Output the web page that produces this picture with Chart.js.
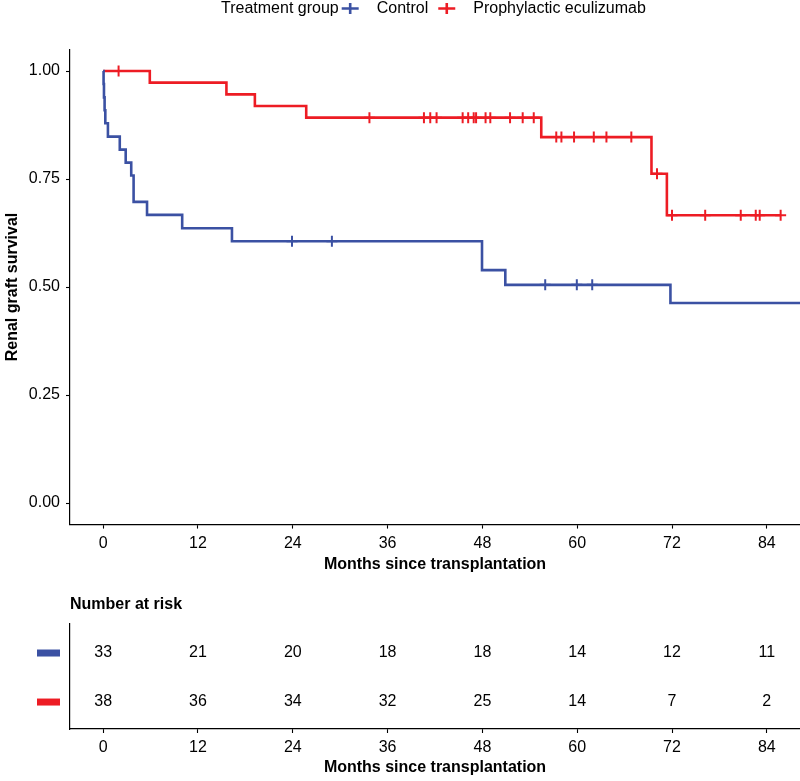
<!DOCTYPE html>
<html>
<head>
<meta charset="utf-8">
<title>Renal graft survival</title>
<script src="https://cdn.jsdelivr.net/npm/chart.js@4.4.1/dist/chart.umd.min.js"></script>
<style>
  body { margin: 0; background: #fff; }
  #wrap { position: relative; width: 800px; height: 781px; background: #fff; }
  canvas { position: absolute; left: 0; }
  #kmChart { top: 0; }
  #riskChart { top: 580px; }
</style>
</head>
<body>
<div id="wrap">
  <canvas id="kmChart" width="800" height="580"></canvas>
  <canvas id="riskChart" width="800" height="201"></canvas>
</div>
<script>
// data
const legendTitle = 'Treatment group';
const groups = ['Control', 'Prophylactic eculizumab'];
const colors = ['#3B51A3', '#ED1C24'];

// Control: step times (months) and survival after each step
const ctrlTime = [0, 0.05, 0.1, 0.18, 0.27, 0.6, 2.1, 2.85, 3.55, 3.85, 5.55, 10.0, 16.3, 47.95, 50.9, 71.8, 92];
const ctrlSurv = [1, 0.970, 0.939, 0.909, 0.879, 0.848, 0.818, 0.788, 0.758, 0.697, 0.667, 0.636, 0.606, 0.539, 0.505, 0.463, 0.463];
const ctrlCensor = [23.9, 28.95, 55.95, 59.95, 61.9];

// Prophylactic eculizumab
const ecuTime = [0, 5.9, 15.6, 19.2, 25.7, 55.45, 69.4, 71.35, 85.75];
const ecuSurv = [1, 0.973, 0.946, 0.919, 0.892, 0.847, 0.762, 0.666, 0.666];
const ecuCensor = [1.95, 33.7, 40.6, 41.4, 42.2, 45.5, 46.2, 46.9, 47.2, 48.4, 49.0, 51.5, 53.1, 54.5,
  57.35, 58.0, 59.6, 62.1, 63.7, 66.85, 70.1, 72.0, 76.2, 80.7, 82.6, 83.1, 85.75];

// number at risk
const riskTimes = [0, 12, 24, 36, 48, 60, 72, 84];
const ctrlRisk = [33, 21, 20, 18, 18, 14, 12, 11];
const ecuRisk = [38, 36, 34, 32, 25, 14, 7, 2];

const xTicks = [0, 12, 24, 36, 48, 60, 72, 84];
const yTicks = [0, 0.25, 0.5, 0.75, 1];
const xTitle = 'Months since transplantation';

const FONT = "'Liberation Sans', Arial, sans-serif";
Chart.defaults.font.family = FONT;
Chart.defaults.color = '#000';

// survival value at time t on a step curve (for placing censor marks)
function survAt(times, surv, t) {
  let s = surv[0];
  for (let i = 0; i < times.length; i++) {
    if (times[i] <= t) s = surv[i];
  }
  return s;
}

function curve(times, surv) {
  return times.map((t, i) => ({ x: t, y: surv[i] }));
}

function censorPts(times, surv, cens) {
  return cens.map(t => ({ x: t, y: survAt(times, surv, t) }));
}

function xScale(height, tickPad, titlePadBottom) {
  return {
    type: 'linear',
    min: -4.2,
    max: 88.2,
    afterBuildTicks: s => { s.ticks = xTicks.map(v => ({ value: v })); },
    afterFit: s => { s.height = height; s.paddingLeft = 0; s.paddingRight = 0; },
    grid: { drawOnChartArea: false, drawTicks: true, tickLength: 4, tickColor: '#000', tickWidth: 1.1 },
    border: { display: true, color: '#000', width: 1.2 },
    ticks: { color: '#000', font: { size: 16 }, padding: tickPad, maxRotation: 0, autoSkip: false },
    title: {
      display: true, text: xTitle, color: '#000',
      font: { size: 16, weight: 'bold' },
      padding: { top: 0, bottom: titlePadBottom }
    }
  };
}

// legend row at the top
const topLegend = {
  id: 'topLegend',
  afterDraw(chart) {
    const ctx = chart.ctx;
    ctx.save();
    ctx.font = '16px ' + FONT;
    ctx.fillStyle = '#000';
    ctx.textBaseline = 'middle';
    const y = 8.5;
    let x = 221;
    ctx.fillText(legendTitle, x, y);
    x += ctx.measureText(legendTitle).width + 3;
    groups.forEach((g, i) => {
      ctx.strokeStyle = colors[i];
      ctx.lineWidth = 2.6;
      ctx.beginPath();
      ctx.moveTo(x, y); ctx.lineTo(x + 17, y);
      ctx.moveTo(x + 8.5, y - 5.5); ctx.lineTo(x + 8.5, y + 5.5);
      ctx.stroke();
      x += 17 + 18;
      ctx.fillStyle = '#000';
      ctx.fillText(g, x, y);
      x += ctx.measureText(g).width + 10;
    });
    ctx.restore();
  }
};

new Chart(document.getElementById('kmChart'), {
  type: 'line',
  data: {
    datasets: [
      {
        label: groups[0], data: curve(ctrlTime, ctrlSurv), stepped: true,
        borderColor: colors[0], borderWidth: 2.6, pointRadius: 0, fill: false
      },
      {
        label: groups[1], data: curve(ecuTime, ecuSurv), stepped: true,
        borderColor: colors[1], borderWidth: 2.6, pointRadius: 0, fill: false
      },
      {
        label: groups[0] + ' censored', data: censorPts(ctrlTime, ctrlSurv, ctrlCensor), showLine: false,
        pointStyle: 'cross', pointRadius: 5.5, pointBorderWidth: 2, borderColor: colors[0], pointBorderColor: colors[0]
      },
      {
        label: groups[1] + ' censored', data: censorPts(ecuTime, ecuSurv, ecuCensor), showLine: false,
        pointStyle: 'cross', pointRadius: 5.5, pointBorderWidth: 2, borderColor: colors[1], pointBorderColor: colors[1]
      }
    ]
  },
  options: {
    responsive: false,
    animation: false,
    devicePixelRatio: 1,
    layout: { autoPadding: false, padding: { top: 49.4, left: 0, right: 0, bottom: 0 } },
    plugins: { legend: { display: false }, tooltip: { enabled: false } },
    scales: {
      x: xScale(55.4, 5, 5.9),
      y: {
        min: -0.05,
        max: 1.05,
        afterBuildTicks: s => { s.ticks = yTicks.map(v => ({ value: v })); },
        afterFit: s => { s.width = 70; },
        grid: { drawOnChartArea: false, drawTicks: true, tickLength: 4, tickColor: '#000', tickWidth: 1.1 },
        border: { display: true, color: '#000', width: 1.2 },
        ticks: { color: '#000', font: { size: 16 }, padding: 6, callback: v => v.toFixed(2) },
        title: {
          display: true, text: 'Renal graft survival', color: '#000',
          font: { size: 16, weight: 'bold' }, padding: { top: 3, bottom: 0 }
        }
      }
    }
  },
  plugins: [topLegend]
});

// risk table: numbers and coloured strata keys
const riskText = {
  id: 'riskText',
  afterDatasetsDraw(chart) {
    const ctx = chart.ctx;
    ctx.save();
    ctx.font = '16px ' + FONT;
    ctx.textAlign = 'center';
    ctx.textBaseline = 'middle';
    chart.data.datasets.forEach((ds, d) => {
      const meta = chart.getDatasetMeta(d);
      meta.data.forEach((pt, i) => {
        ctx.fillStyle = '#000';
        ctx.fillText(String(ds.data[i].n), pt.x, pt.y);
      });
      const py = chart.scales.y.getPixelForValue(ds.data[0].y);
      ctx.fillStyle = colors[d];
      ctx.fillRect(37, py - 3.5, 23, 7);
    });
    ctx.font = 'bold 16px ' + FONT;
    ctx.textAlign = 'left';
    ctx.fillStyle = '#000';
    ctx.fillText('Number at risk', 70, 24.5);
    ctx.restore();
  }
};

new Chart(document.getElementById('riskChart'), {
  type: 'scatter',
  data: {
    datasets: [
      { label: groups[0], data: riskTimes.map((t, i) => ({ x: t, y: 2, n: ctrlRisk[i] })), pointRadius: 0 },
      { label: groups[1], data: riskTimes.map((t, i) => ({ x: t, y: 1, n: ecuRisk[i] })), pointRadius: 0 }
    ]
  },
  options: {
    responsive: false,
    animation: false,
    devicePixelRatio: 1,
    layout: { autoPadding: false, padding: { top: 43.6, left: 0, right: 0, bottom: 0 } },
    plugins: { legend: { display: false }, tooltip: { enabled: false } },
    scales: {
      x: xScale(52, 5, 3.4),
      y: {
        min: 0.45,
        max: 2.6,
        afterFit: s => { s.width = 70; },
        grid: { display: false },
        border: { display: true, color: '#000', width: 1.2 },
        ticks: { display: false }
      }
    }
  },
  plugins: [riskText]
});
</script>
</body>
</html>
